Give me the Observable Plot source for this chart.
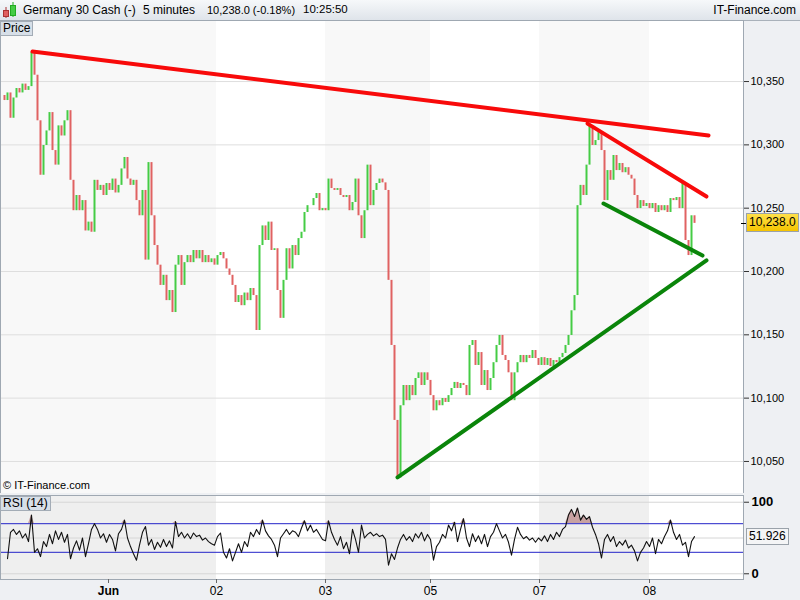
<!DOCTYPE html>
<html><head><meta charset="utf-8">
<script src="https://cdn.jsdelivr.net/npm/d3@7"></script>
<script src="https://cdn.jsdelivr.net/npm/@observablehq/plot@0.6"></script>
<style>
body{margin:0;background:#fff;font-family:"Liberation Sans",Arial,sans-serif;}
#wrap{position:relative;width:800px;height:600px;background:#eef0f3;overflow:hidden;}
.abs{position:absolute;}
#hdr{left:0;top:0;width:800px;height:21px;background:linear-gradient(#f6f8fa,#dfe4ea);border-bottom:1px solid #a9b1ba;box-sizing:border-box;font-size:12px;color:#000;}
#hdr span{position:absolute;top:3px;white-space:nowrap;}
.tag{font-size:12px;background:#d7dfe8;border:1px solid #a3acb6;padding:0 2px;line-height:13px;color:#000;}
.val{font-size:12px;border:1px solid #9aa2aa;line-height:16px;padding:0 2px;box-sizing:border-box;height:19px;color:#000;}
</style></head>
<body>
<div id="wrap">
  <div id="hdr" class="abs">
    <svg class="abs" style="left:2px;top:2px" width="16" height="16">
      <line x1="4" y1="5" x2="4" y2="16" stroke="#a33"/><rect x="1.5" y="8.5" width="5" height="6" fill="#e06060" stroke="#a33"/>
      <line x1="11" y1="0" x2="11" y2="15" stroke="#2a2"/><rect x="8.5" y="3.5" width="5" height="10" fill="#44cc44" stroke="#2a2"/>
    </svg>
    <span id="h1" style="left:23px"></span>
    <span id="h2" style="left:143px"></span>
    <span id="h3" style="left:207px;font-size:11px;top:4px"></span>
    <span id="h4" style="left:303px;font-size:11.5px;top:3px"></span>
    <span style="right:4px">IT-Finance.com</span>
  </div>
  <div id="main" class="abs" style="left:0;top:20px"></div>
  <div id="rsi" class="abs" style="left:0;top:495px"></div>
  <div class="abs tag" style="left:0;top:21px">Price</div>
  <div class="abs tag" style="left:0;top:496px">RSI (14)</div>
  <div class="abs" style="left:3px;top:479px;font-size:11px;color:#000">© IT-Finance.com</div>
  <div id="lastTick" class="abs" style="left:741px;width:5px;height:1px;background:#000"></div>
  <div id="lastP" class="abs val" style="left:746px;background:linear-gradient(#ffe04a,#f5c400)"></div>
  <div id="lastR" class="abs val" style="left:746px;background:#f4f5f6;height:17px;line-height:14px"></div>
</div>
<script>
// ---- data ----
const instrument = "Germany 30 Cash (-)";
const timeframe = "5 minutes";
const changePct = "-0.18%";
const clock = "10:25:50";

const closes = [10339,10335,10341,10321,10337,10344.5,10341,10348,10343,10346,
10373,10355,10319,10276,10299.5,10311,10325.5,10295.5,10284,10315,
10307,10319,10327,10272,10248,10260,10248,10256,10232,10239,
10231,10272,10264,10268,10260,10269.5,10264,10273,10262,10268,
10281,10290,10273,10268,10272,10256,10244,10264,10209,10286,
10244,10220.5,10205,10189,10197,10177,10185,10167.6,10205,10212.6,
10189,10207,10212.6,10207,10216.6,10210,10216.6,10207,10212.6,10207,
10210,10205,10212.6,10215,10210,10202,10197,10189,10175.5,10181,
10173,10183,10177,10186.6,10181,10153.4,10220.5,10236,10224.5,10239,
10216.6,10218,10185,10163,10193,10218,10202,10220.5,10212.6,10226,
10231,10246.6,10252,10252,10257.6,10261.6,10248,10249.7,10248,10273,
10265.5,10264,10265.5,10260,10258.4,10260,10248,10254.5,10273,10244,
10226,10248,10284,10252,10264,10269.5,10273,10270,10264,10193,
10141.6,10082.4,10037,10094,10110,10098,10110,10102,10115.5,10120,
10110,10120,10114,10102,10090,10098,10094,10099.7,10096.6,10102,
10107.6,10112.4,10107.6,10111.6,10110,10102,10141.6,10145.5,10125.8,10136,
10110,10121.8,10106,10115.5,10128,10141.6,10149.5,10133.7,10129.7,10120,
10098,10120,10128,10133.7,10128,10133.7,10131.3,10137.6,10131.3,10125.8,
10132,10125.8,10131.3,10125,10129.7,10128,10132,10135.3,10141.6,10149.5,
10169,10181,10252,10268,10260,10284,10315,10299.5,10303.4,10309.7,
10295.5,10256,10279.7,10272,10291.6,10279.7,10285.3,10278,10282,10276,
10273,10260,10249.7,10256,10251.3,10253.7,10249.7,10253.7,10246.6,10252,
10248,10252,10246.6,10257.6,10256,10258.4,10249.7,10269.5,10224.5,10212.6,
10244,10238];

const rsiValues = [null,null,21,58,62,55,60,50,56,45,
82,30,35,24,45,38,55,42,60,48,
58,44,55,21,36,46,33,50,24,42,
62,70,62,50,56,44,55,48,32,56,
62,75,50,38,28,19,40,58,66,40,
48,34,44,37,48,38,46,36,73,52,
58,50,56,49,57,52,54,47,50,45,
42,40,52,57,30,22,35,18,30,42,
30,45,38,58,52,62,55,75,60,53,
48,40,24,50,56,62,55,60,58,52,
64,74,60,68,58,62,55,48,46,74,
58,48,40,52,35,44,28,62,48,30,
68,50,55,58,53,56,52,54,48,12,
28,20,36,48,55,47,52,45,56,50,
58,46,55,48,19,38,44,55,50,68,
60,72,45,62,77,50,38,56,45,53,
42,55,38,52,58,70,60,50,55,44,
26,48,65,55,49,52,47,50,44,50,
46,53,45,55,48,58,52,62,66,82,
90,80,92,75,82,76,80,65,55,42,
22,48,55,45,52,38,45,40,47,36,
40,32,18,30,36,45,38,50,28,48,
42,52,60,75,58,48,55,40,44,24,
45,51.926];

const priceTicks = [10050,10100,10150,10200,10250,10300,10350];
const rsiTicks = [0,100];
const rsiGrid = [0,50,100];
const rsiBands = [30,70];
const dayTicks = [35.67,71.67,108,143,179.33,216];
const dayLabels = ["Jun","02","03","05","07","08"];
const shadeStart = [-0.33,108,179.33];
const shadeEnd = [71.67,143,216];
const xDomain = [-0.33,247.33];
const priceDomain = [10024.7,10398.2];
const rsiDomain = [-8,109.4];

// trend lines: [index, price] endpoints
const redLongI = [10.33,235.67], redLongP = [10373.7,10307.4];
const redShortI = [195.33,235], redShortP = [10316.8,10259.2];
const greenLongI = [132,235], greenLongP = [10037.4,10208.7];
const greenShortI = [200.67,233.67], greenShortP = [10253.7,10212.6];

// ---- tables ----
const candles = closes.map((c,i)=>({i, o: i>0 ? closes[i-1] : c, c}));
const rsi = rsiValues.map((v,i)=>({i, v})).filter(d=>d.v!=null);
const shades = shadeStart.map((a,k)=>({a, b: shadeEnd[k]}));
const seg = (I,P)=>I.map((i,k)=>({i, p:P[k]}));
const UP="#45cc45", DOWN="#e06262";
const font = "Liberation Sans, Arial, sans-serif";

const main = Plot.plot({
  width:800, height:473, marginLeft:0, marginRight:57, marginTop:0, marginBottom:0,
  x:{domain:xDomain, axis:null},
  y:{domain:priceDomain, axis:null, label:null},
  style:{background:"transparent", fontFamily:font, fontSize:"11px", color:"#000"},
  marks:[
    Plot.frame({fill:"white", stroke:null}),
    Plot.rect(shades,{x1:"a", x2:"b", fill:"#f8f8f8"}),
    Plot.ruleY(priceTicks,{stroke:"#dedede"}),
    Plot.ruleX(candles,{x:"i", y1:"o", y2:"c", stroke:d=>d.c>=d.o?UP:DOWN, strokeWidth:2}),
    Plot.line(seg(redLongI,redLongP),{x:"i", y:"p", stroke:"#f80a0a", strokeWidth:4}),
    Plot.line(seg(redShortI,redShortP),{x:"i", y:"p", stroke:"#f80a0a", strokeWidth:4}),
    Plot.line(seg(greenLongI,greenLongP),{x:"i", y:"p", stroke:"#0a850a", strokeWidth:4}),
    Plot.line(seg(greenShortI,greenShortP),{x:"i", y:"p", stroke:"#0a850a", strokeWidth:4}),
    Plot.frame({stroke:"#9fa8b2"}),
    Plot.axisY(priceTicks,{anchor:"right", label:null, tickFormat:d3.format(","), tickSize:5, tickPadding:2, fontSize:11, stroke:"#333"})
  ]
});
document.getElementById("main").appendChild(main);

const lastClose = closes[closes.length-1];
const yP = main.scale("y").apply(lastClose);
const lp = document.getElementById("lastP");
lp.textContent = d3.format(",.1f")(lastClose);
lp.style.top = (20 + yP - 9.5) + "px";
document.getElementById("lastTick").style.top = (20 + Math.round(yP)) + "px";

const sub = Plot.plot({
  width:800, height:105, marginLeft:0, marginRight:57, marginTop:0, marginBottom:21,
  x:{domain:xDomain, axis:null, label:null},
  y:{domain:rsiDomain, axis:null, label:null},
  style:{background:"transparent", fontFamily:font, fontSize:"12px", color:"#000"},
  marks:[
    Plot.frame({fill:"white", stroke:null}),
    Plot.rect(shades,{x1:"a", x2:"b", fill:"#efefef"}),
    Plot.ruleY(rsiGrid,{stroke:"#d6d6d6"}),
    Plot.areaY(rsi,{x:"i", y1:70, y2:d=>Math.max(d.v,70), fill:"#c8a2a2"}),
    Plot.ruleY(rsiBands,{stroke:"#2424c8"}),
    Plot.line(rsi,{x:"i", y:"v", stroke:"#111", strokeWidth:1.1}),
    Plot.frame({stroke:"#9fa8b2"}),
    Plot.axisY(rsiTicks,{anchor:"right", label:null, tickSize:5, tickPadding:3, fontSize:13, fontWeight:"bold", stroke:"#333"}),
    Plot.axisX([dayTicks[0]],{anchor:"bottom", label:null, tickSize:4, tickPadding:3, fontWeight:"bold", fontSize:12, tickFormat:()=>dayLabels[0], stroke:"#666"}),
    Plot.axisX(dayTicks.slice(1),{anchor:"bottom", label:null, tickSize:4, tickPadding:3, fontSize:12, tickFormat:d=>dayLabels[dayTicks.indexOf(d)], stroke:"#666"})
  ]
});
document.getElementById("rsi").appendChild(sub);

const lastRsi = rsiValues[rsiValues.length-1];
const yR = sub.scale("y").apply(lastRsi);
const lr = document.getElementById("lastR");
lr.textContent = d3.format(".3f")(lastRsi);
lr.style.top = (495 + yR - 8.5) + "px";

document.getElementById("h1").textContent = instrument;
document.getElementById("h2").textContent = timeframe;
document.getElementById("h3").textContent = d3.format(",.1f")(lastClose) + " (" + changePct + ")";
document.getElementById("h4").textContent = clock;
</script>
</body></html>
